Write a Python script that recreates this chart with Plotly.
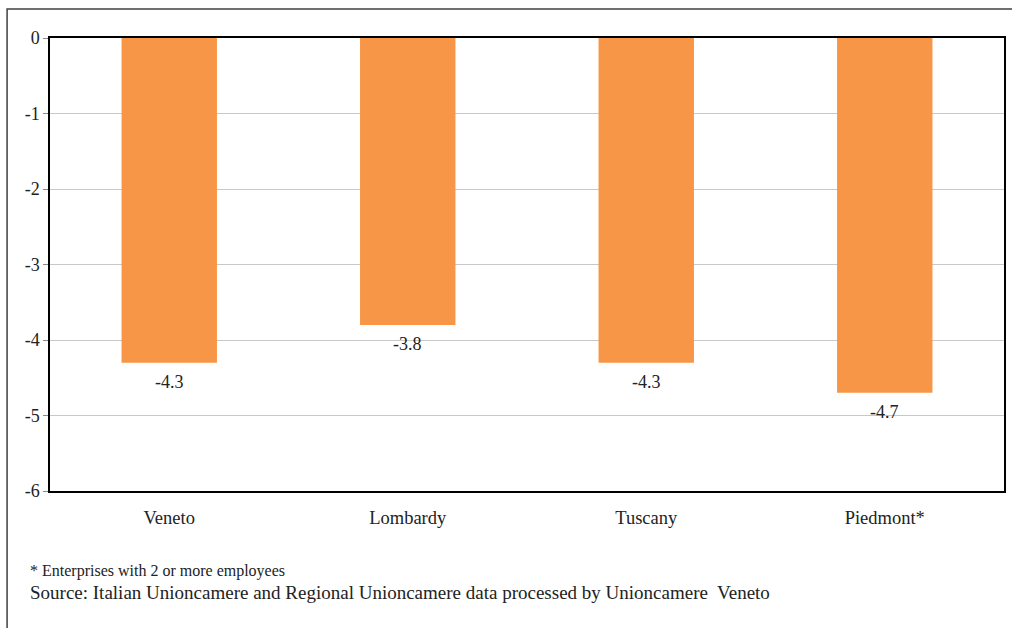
import plotly.graph_objects as go

regions = ["Veneto", "Lombardy", "Tuscany", "Piedmont*"]
values = [-4.3, -3.8, -4.3, -4.7]
value_labels = ["-4.3", "-3.8", "-4.3", "-4.7"]
y_ticks = [0, -1, -2, -3, -4, -5, -6]

FONT = "Liberation Serif, Times New Roman, serif"
W, H = 1012, 628
L, R, T, B = 50, 6, 38, 137
pw, ph = W - L - R, H - T - B

def px_x(x):
    return (x - L) / pw

def px_y(y):
    return (H - B - y) / ph

fig = go.Figure()
fig.add_trace(go.Bar(
    x=regions, y=values,
    marker=dict(color="#F79646", line=dict(width=0)),
    width=0.4,
))

annotations = [
    dict(x=r, y=v, text=t, xref="x", yref="y", showarrow=False,
         yanchor="top", yshift=-7,
         font=dict(family=FONT, size=18, color="#222222"))
    for r, v, t in zip(regions, values, value_labels)
]
annotations += [
    dict(text="* Enterprises with 2 or more employees", xref="paper", yref="paper",
         x=px_x(28), y=px_y(571), xanchor="left", yanchor="middle", showarrow=False,
         font=dict(family=FONT, size=16, color="#222222")),
    dict(text="Source: Italian Unioncamere and Regional Unioncamere data processed by Unioncamere  Veneto",
         xref="paper", yref="paper",
         x=px_x(28), y=px_y(592), xanchor="left", yanchor="middle", showarrow=False,
         font=dict(family=FONT, size=19, color="#222222")),
]

fig.update_layout(
    width=W, height=H,
    margin=dict(l=L, r=R, t=T, b=B),
    paper_bgcolor="white", plot_bgcolor="white",
    showlegend=False,
    font=dict(family=FONT, size=18, color="#222222"),
    xaxis=dict(
        showgrid=False, showline=True, linecolor="black", linewidth=1.5, mirror=True,
        ticks="outside", ticklen=9, tickcolor="rgba(0,0,0,0)",
        tickfont=dict(family=FONT, size=18.5, color="#222222"),
    ),
    yaxis=dict(
        range=[-6, 0], tickvals=y_ticks, ticktext=[str(v) for v in y_ticks],
        showgrid=True, gridcolor="#C8C8C8", gridwidth=1,
        showline=True, linecolor="black", linewidth=1.5, mirror=True,
        ticks="outside", ticklen=5, tickcolor="#888888",
        tickfont=dict(family=FONT, size=18, color="#222222"),
        zeroline=False,
    ),
    shapes=[dict(
        type="rect", xref="paper", yref="paper",
        x0=px_x(7), x1=px_x(1020), y0=px_y(640), y1=px_y(9),
        line=dict(color="#404040", width=1.5), fillcolor="rgba(0,0,0,0)",
        layer="above",
    )],
    annotations=annotations,
)

fig.write_html("out.html")
